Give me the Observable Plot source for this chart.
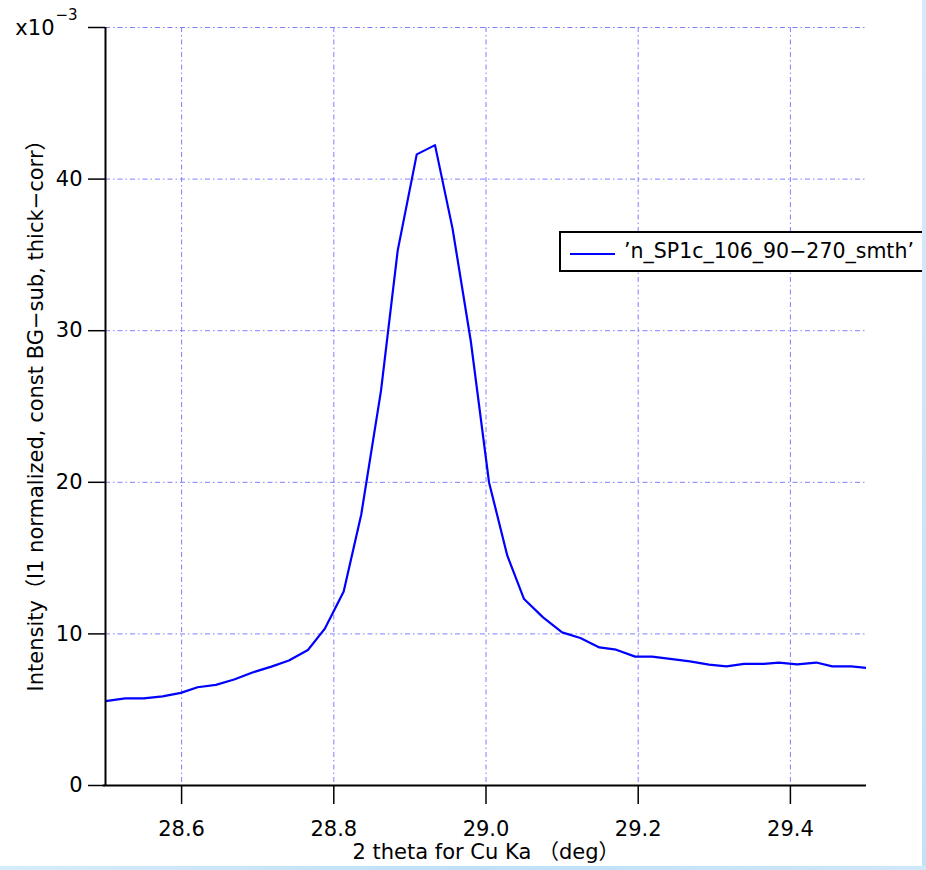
<!DOCTYPE html>
<html>
<head>
<meta charset="utf-8">
<script src="https://cdn.jsdelivr.net/npm/d3@7"></script>
<script src="https://cdn.jsdelivr.net/npm/@observablehq/plot@0.6"></script>
<style>
  html, body { margin: 0; padding: 0; background: #fff; }
  #wrap { position: relative; width: 926px; height: 870px; overflow: hidden; font-family: "DejaVu Sans", "Noto Sans CJK JP", sans-serif; }
  #legend { position: absolute; left: 559px; top: 231px; width: 380px; height: 37px; border: 2px solid #000; background: #fff; box-sizing: content-box; }
  #legend .swatch { position: absolute; left: 9px; top: 20px; width: 45px; height: 0; border-top: 2px solid #0000ff; }
  #legend .lab { position: absolute; left: 63px; top: 4px; font-size: 20.5px; line-height: 28px; color: #000; white-space: nowrap; }
  .stripeR { position: absolute; left: 922px; top: 0; width: 4px; height: 870px; background: linear-gradient(#d6ebfa, #c4e2f7); z-index: 5; }
  .stripeB { position: absolute; left: 0; top: 866px; width: 926px; height: 4px; background: linear-gradient(90deg, #d6ecfa, #bfe0f6, #cfe7f9); z-index: 5; }
</style>
</head>
<body>
<div id="wrap">
  <div id="chart"></div>
  <div id="legend"><div class="swatch"></div><div class="lab">’n_SP1c_106_90−270_smth’</div></div>
  <div class="stripeR"></div>
  <div class="stripeB"></div>
</div>
<script>
// Data (2θ in degrees, intensity in units of 1e-3)
const twoTheta = [28.500, 28.526, 28.550, 28.575, 28.599, 28.621, 28.645, 28.669, 28.694, 28.718,
                  28.741, 28.766, 28.788, 28.813, 28.836, 28.862, 28.884, 28.909, 28.933, 28.956,
                  28.980, 29.004, 29.028, 29.050, 29.075, 29.100, 29.124, 29.149, 29.171, 29.196,
                  29.218, 29.242, 29.268, 29.293, 29.316, 29.339, 29.365, 29.385, 29.409, 29.434,
                  29.455, 29.480, 29.505];
const intensity = [5.57, 5.75, 5.75, 5.88, 6.11, 6.48, 6.64, 6.99, 7.47, 7.84,
                   8.24, 8.94, 10.33, 12.80, 17.86, 26.03, 35.30, 41.63, 42.24, 36.75,
                   29.32, 19.99, 15.16, 12.30, 11.09, 10.10, 9.73, 9.11, 8.96, 8.50,
                   8.50, 8.35, 8.19, 7.97, 7.86, 8.02, 8.02, 8.11, 7.99, 8.11,
                   7.86, 7.86, 7.73];
const xTicks = [28.6, 28.8, 29.0, 29.2, 29.4];
const yTicks = [0, 10, 20, 30, 40, 50];
const xDomain = [28.5, 29.5];
const yDomain = [0, 50];
const xLabel = "2 theta for Cu Ka （deg）";
const yLabel = "Intensity（I1 normalized, const BG−sub, thick−corr）";
const seriesName = "’n_SP1c_106_90−270_smth’";

const data = twoTheta.map((x, i) => ({x, y: intensity[i]}));
const gridColor = "#7f7fff";
const dash = "5,3,1.5,3";
const font = '"DejaVu Sans", "Noto Sans CJK JP", sans-serif';

const chart = Plot.plot({
  width: 926,
  height: 870,
  marginLeft: 105,
  marginRight: 60,
  marginTop: 27,
  marginBottom: 85,
  style: {fontFamily: font, fontSize: "21px", background: "transparent", color: "#000", overflow: "visible"},
  x: {domain: xDomain},
  y: {domain: yDomain},
  marks: [
    Plot.gridX(xTicks, {stroke: gridColor, strokeOpacity: 1, strokeWidth: 1, strokeDasharray: dash}),
    Plot.gridY(yTicks.filter(d => d > 0), {stroke: gridColor, strokeOpacity: 1, strokeWidth: 1, strokeDasharray: dash}),
    Plot.line(data, {x: "x", y: "y", stroke: "#0000ff", strokeWidth: 2.2, clip: true}),
    Plot.axisY(yTicks, {tickSize: 17, tickPadding: 6, strokeWidth: 1.5, label: null,
      tickFormat: d => d === 50 ? "" : String(d), fontSize: 21}),
    Plot.axisX(xTicks, {tickSize: 19, tickPadding: 17, strokeWidth: 1.5, label: null,
      tickFormat: d3.format(".1f"), fontSize: 21}),
    Plot.ruleX([xDomain[0]], {y1: yDomain[0], y2: yDomain[1], stroke: "#000", strokeWidth: 2}),
    Plot.ruleY([yDomain[0]], {x1: xDomain[0] - 0.003, x2: xDomain[1], stroke: "#000", strokeWidth: 2}),
    Plot.text(["x10"], {x: xDomain[0], y: yDomain[1], dx: -51, dy: 1, textAnchor: "end", fontSize: 21}),
    Plot.text(["−3"], {x: xDomain[0], y: yDomain[1], dx: -50, dy: -12, textAnchor: "start", fontSize: 15}),
    Plot.text([xLabel], {frameAnchor: "bottom", lineAnchor: "middle", dy: 67, fontSize: 21}),
    Plot.text([yLabel], {frameAnchor: "left", dx: -69, dy: 4, rotate: -90, textAnchor: "middle", fontSize: 21})
  ]
});
document.getElementById("chart").appendChild(chart);
</script>
</body>
</html>
